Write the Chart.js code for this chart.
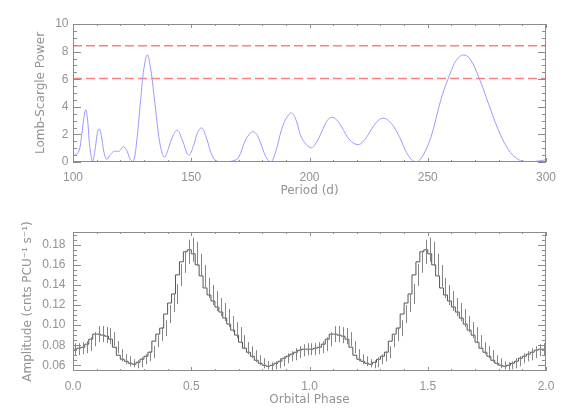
<!DOCTYPE html>
<html><head><meta charset="utf-8">
<script src="https://cdn.jsdelivr.net/npm/chart.js@4"></script>
<style>
html,body{margin:0;padding:0;background:#fff;width:568px;height:419px;overflow:hidden}
canvas{position:absolute;left:0}
#c1{top:0}#c2{top:210px}
</style></head>
<body>
<canvas id="c1" width="568" height="210"></canvas>
<canvas id="c2" width="568" height="209"></canvas>
<script>
// ---- Top panel: Lomb-Scargle periodogram ----
const period = [100,102.3,103.7,104.6,105.4,106.2,106.8,107.5,108.3,109.5,110.3,111.1,112.0,113.0,114.2,115.5,117.0,118.3,119.5,121.3,122.8,124.2,125.5,127.0,128.6,130.0,131.4,132.7,134.0,136.1,137.3,138.6,140.2,142.0,144.1,146.2,148.9,151.0,152.6,154.4,156.3,159.3,162.2,165.7,168.0,169.9,172.7,174.5,176.2,178.0,179.8,181.8,183.7,185.8,188.2,190.3,192.5,194.6,196.7,200.6,203.0,205.2,207.3,209.4,211.5,213.6,217.0,220.6,223.5,226.3,229.0,231.5,234.0,236.2,238.5,240.4,243.0,245.3,247.5,250.2,252.3,254.5,256.7,258.7,260.5,262.2,265.0,267.9,271.7,275.6,279.8,284.1,288.3,292.5,296.0,300];
const power  = [0.42,0.70,2.0,3.2,3.79,3.0,1.62,0.6,0.05,1.1,2.1,2.4,1.9,0.8,0.2,0.45,0.75,0.78,0.78,1.1,0.8,0.2,0.0,1.6,4.5,6.8,7.76,6.9,5.2,2.1,0.9,0.35,0.9,1.8,2.3,1.6,0.5,1.2,2.1,2.47,1.8,0.3,0.0,0.03,0.1,0.3,1.5,2.0,2.2,1.9,1.14,0.3,0.0,0.8,2.35,3.2,3.55,2.9,1.75,1.03,1.45,2.2,2.95,3.24,3.05,2.54,1.6,1.26,1.65,2.4,3.0,3.17,2.9,2.4,1.65,0.9,0.2,0.0,0.35,1.26,2.35,3.85,5.15,6.05,6.85,7.4,7.76,7.46,6.08,4.27,2.35,0.9,0.18,0.02,0.05,0.17];
const thresholds = [8.43, 6.05];
const periodTicks = [100,150,200,250,300];
const powerTicks = [0,2,4,6,8,10];

// ---- Bottom panel: folded light curve (60 phase bins, shown over 2 cycles) ----
const amplitude = [0.076,0.076,0.077,0.078,0.081,0.086,0.091,0.091,0.090,0.089,0.086,0.078,0.070,0.066,0.064,0.062,0.061,0.063,0.066,0.069,
                   0.073,0.084,0.091,0.097,0.111,0.122,0.131,0.150,0.163,0.173,0.175,0.171,0.160,0.149,0.137,0.130,0.124,0.118,0.113,0.107,
                   0.101,0.095,0.090,0.083,0.077,0.073,0.069,0.065,0.062,0.060,0.059,0.060,0.062,0.064,0.067,0.069,0.071,0.073,0.075,0.076];
const amplitudeErr = [0.006,0.006,0.006,0.006,0.007,0.007,0.008,0.008,0.008,0.008,0.007,0.006,0.006,0.005,0.005,0.004,0.004,0.005,0.005,0.005,
                      0.006,0.006,0.007,0.008,0.009,0.009,0.010,0.011,0.011,0.012,0.012,0.012,0.011,0.011,0.010,0.010,0.010,0.009,0.009,0.009,
                      0.008,0.008,0.008,0.007,0.006,0.006,0.006,0.005,0.005,0.004,0.004,0.004,0.005,0.005,0.005,0.005,0.006,0.006,0.006,0.006];
const cycles = 2;
const phaseTicks = [0,0.5,1.0,1.5,2.0];
const ampTicks = [0.06,0.08,0.10,0.12,0.14,0.16,0.18];

const GRAY = '#8c8c8c';
const TEXT = '#939393';
const tickFont = {family:'Liberation Sans', size:12};
const titleFont = {family:'DejaVu Sans', size:12};

// frame + inward ticks on all four sides, positioned by the chart's scales
const framePlugin = {
  id:'frame',
  afterDatasetsDraw(chart, args, o){
    const {ctx, chartArea:a, scales:{x,y}} = chart;
    ctx.save();
    ctx.strokeStyle = GRAY; ctx.lineWidth = 1;
    ctx.strokeRect(a.left+0.5, a.top+0.5, a.right-a.left-1, a.bottom-a.top-1);
    const drawX = (v, len) => {
      const px = Math.round(x.getPixelForValue(v))+0.5;
      ctx.beginPath(); ctx.moveTo(px,a.bottom); ctx.lineTo(px,a.bottom-len);
      ctx.moveTo(px,a.top); ctx.lineTo(px,a.top+len); ctx.stroke();
    };
    const drawY = (v, len) => {
      const py = Math.round(y.getPixelForValue(v))+0.5;
      ctx.beginPath(); ctx.moveTo(a.left,py); ctx.lineTo(a.left+len,py);
      ctx.moveTo(a.right,py); ctx.lineTo(a.right-len,py); ctx.stroke();
    };
    const xt = x.ticks.map(t=>t.value), yt = y.ticks.map(t=>t.value);
    for (let i=0;i<xt.length;i++){
      drawX(xt[i], o.xMajor);
      if (i<xt.length-1) for (let k=1;k<o.xMinorN;k++) drawX(xt[i]+(xt[i+1]-xt[i])*k/o.xMinorN, o.xMinor);
    }
    for (let i=0;i<yt.length;i++){
      drawY(yt[i], o.yMajor);
      if (i<yt.length-1) for (let k=1;k<o.yMinorN;k++) drawY(yt[i]+(yt[i+1]-yt[i])*k/o.yMinorN, o.yMinor);
    }
    if (o.yMinorStep){
      for (let v=yt[yt.length-1]+o.yMinorStep; v<=y.max+1e-9; v+=o.yMinorStep) drawY(v,o.yMinor);
      for (let v=yt[0]-o.yMinorStep; v>=y.min-1e-9; v-=o.yMinorStep) drawY(v,o.yMinor);
    }
    ctx.restore();
  }
};

// error bars drawn through the chart's scales
const errPlugin = {
  id:'errbars',
  afterDatasetsDraw(chart){
    const {ctx, scales:{x,y}} = chart;
    ctx.save(); ctx.strokeStyle = '#858585'; ctx.lineWidth = 1;
    for (let c=0;c<cycles;c++){
      for (let i=0;i<amplitude.length;i++){
        const ph = c + (i+0.5)/amplitude.length;
        const px = Math.round(x.getPixelForValue(ph))+0.5;
        ctx.beginPath();
        ctx.moveTo(px, y.getPixelForValue(amplitude[i]-amplitudeErr[i]));
        ctx.lineTo(px, y.getPixelForValue(amplitude[i]+amplitudeErr[i]));
        ctx.stroke();
      }
    }
    ctx.restore();
  }
};

function setTicks(arr){ return (s)=>{ s.ticks = arr.map(v=>({value:v})); }; }

// Top chart
new Chart(document.getElementById('c1'), {
  type:'line',
  data:{ datasets:[
    { data: period.map((p,i)=>({x:p,y:power[i]})), borderColor:'#9a9aff', borderWidth:1, pointRadius:0, tension:0.4, fill:false },
    ...thresholds.map(t=>({ data:[{x:periodTicks[0],y:t},{x:periodTicks[periodTicks.length-1],y:t}], borderColor:'#ff8080', borderWidth:1.5, borderDash:[9,4], pointRadius:0, fill:false }))
  ]},
  options:{
    responsive:false, animation:false, devicePixelRatio:1,
    layout:{padding:{left:0,right:22,top:24,bottom:0}},
    plugins:{legend:{display:false}, tooltip:{enabled:false},
      frame:{xMajor:4,xMinor:2,xMinorN:5,yMajor:8,yMinor:4,yMinorN:4}},
    scales:{
      x:{type:'linear', min:100, max:300,
        afterBuildTicks:setTicks(periodTicks),
        afterFit:(s)=>{s.height=48;},
        grid:{display:false, drawTicks:false}, border:{display:false},
        ticks:{font:tickFont, color:TEXT, padding:8, maxRotation:0, autoSkip:false},
        title:{display:true, text:'Period (d)', font:titleFont, color:TEXT, padding:{top:0,bottom:12}}},
      y:{type:'linear', min:0, max:10,
        afterBuildTicks:setTicks(powerTicks),
        afterFit:(s)=>{s.width=73;},
        grid:{display:false, drawTicks:false}, border:{display:false},
        ticks:{font:tickFont, color:TEXT, padding:4.5},
        title:{display:true, text:'Lomb-Scargle Power', font:titleFont, color:TEXT, padding:{top:34,bottom:0}}}
    }
  },
  plugins:[framePlugin]
});

// Bottom chart
const histPts = [];
for (let c=0;c<cycles;c++) amplitude.forEach((v,i)=>histPts.push({x:c+i/amplitude.length, y:v}));
histPts.push({x:cycles, y:amplitude[amplitude.length-1]});

new Chart(document.getElementById('c2'), {
  type:'line',
  data:{ datasets:[
    { data: histPts, stepped:'after', borderColor:'#555', borderWidth:1, pointRadius:0, fill:false }
  ]},
  options:{
    responsive:false, animation:false, devicePixelRatio:1,
    layout:{padding:{left:0,right:22,top:22,bottom:0}},
    plugins:{legend:{display:false}, tooltip:{enabled:false},
      frame:{xMajor:4,xMinor:2,xMinorN:5,yMajor:8,yMinor:4,yMinorN:4,yMinorStep:0.005}},
    scales:{
      x:{type:'linear', min:0, max:2,
        afterBuildTicks:setTicks(phaseTicks),
        afterFit:(s)=>{s.height=48;},
        grid:{display:false, drawTicks:false}, border:{display:false},
        ticks:{font:tickFont, color:TEXT, padding:8, maxRotation:0, autoSkip:false, callback:(v)=>Number(v).toFixed(1)},
        title:{display:true, text:'Orbital Phase', font:titleFont, color:TEXT, padding:{top:0,bottom:12}}},
      y:{type:'linear', min:0.0543, max:0.1927,
        afterBuildTicks:setTicks(ampTicks),
        afterFit:(s)=>{s.width=73;},
        grid:{display:false, drawTicks:false}, border:{display:false},
        ticks:{font:tickFont, color:TEXT, padding:7.5, callback:(v)=>Number(v).toFixed(2)},
        title:{display:true, text:'Amplitude (cnts PCU\u207B\u00B9 s\u207B\u00B9)', font:titleFont, color:TEXT, padding:{top:21,bottom:0}}}
    }
  },
  plugins:[framePlugin, errPlugin]
});
</script>
</body></html>
